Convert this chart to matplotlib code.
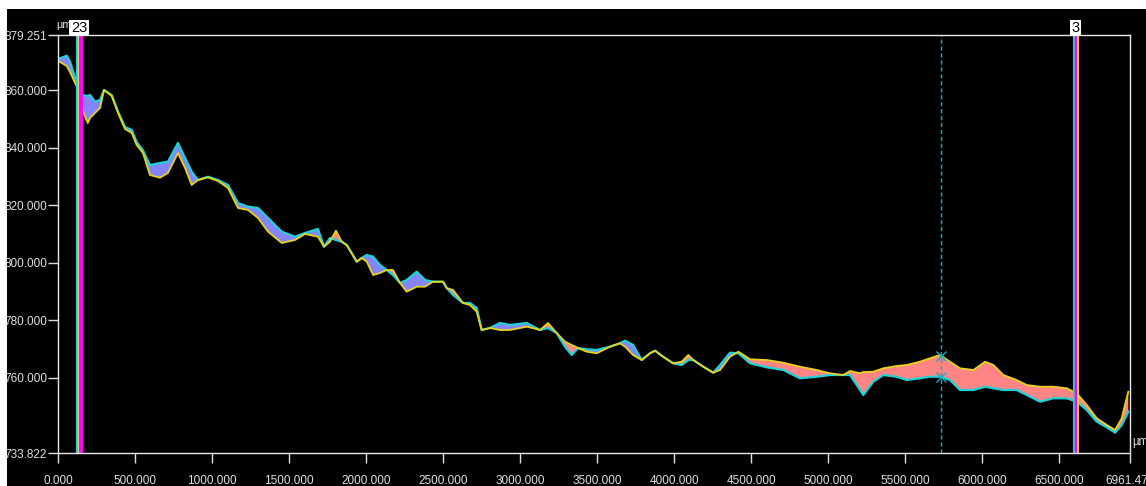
import matplotlib.pyplot as plt
import numpy as np

# distance along the profile (um)
x = [0, 55, 76, 109, 130, 152, 191, 206, 238, 271, 297, 347, 388, 433, 477, 509,
     550, 595, 660, 712, 777, 823, 866, 907, 972, 1037, 1102, 1167, 1232, 1297,
     1362, 1451, 1537, 1602, 1686, 1725, 1764, 1803, 1840, 1873, 1938, 1970,
     2003, 2044, 2089, 2132, 2173, 2219, 2262, 2327, 2381, 2433, 2498, 2522,
     2563, 2628, 2673, 2717, 2749, 2803, 2868, 2933, 3042, 3128, 3180, 3236,
     3290, 3334, 3375, 3431, 3496, 3582, 3647, 3680, 3732, 3788, 3842, 3875,
     3927, 3992, 4048, 4091, 4123, 4188, 4253, 4297, 4362, 4416, 4492, 4600,
     4708, 4816, 4925, 5011, 5097, 5141, 5206, 5227, 5292, 5357, 5444, 5509,
     5595, 5660, 5725, 5790, 5855, 5942, 6018, 6072, 6136, 6223, 6288, 6375,
     6461, 6548, 6613, 6678, 6743, 6808, 6862, 6905, 6948]

# first profile (cyan)
profile_a = [870.90, 872.05, 869.96, 864.29, 860.12, 858.38, 858.03, 858.38,
             856.05, 856.64, 860.12, 858.38, 852.57, 847.25, 846.20, 842.02,
             839.07, 834.02, 834.72, 835.17, 841.68, 836.46, 831.69, 828.80,
             829.95, 828.80, 827.06, 820.80, 819.52, 819.06, 815.58, 810.82,
             809.08, 810.37, 811.76, 805.60, 808.63, 807.93, 807.34, 806.19,
             800.38, 801.67, 802.71, 802.12, 799.23, 797.49, 795.75, 792.97,
             794.01, 796.90, 794.01, 793.42, 793.42, 791.23, 788.80, 786.01,
             786.01, 784.27, 776.62, 777.32, 779.05, 778.36, 779.05, 776.62,
             777.32, 775.58, 770.81, 767.92, 770.36, 769.90, 769.66, 770.81,
             771.99, 772.90, 771.40, 766.18, 768.51, 769.42, 767.33, 765.03,
             764.44, 766.18, 766.18, 763.85, 761.76, 764.44, 768.72, 768.51,
             765.03, 763.64, 762.70, 759.82, 760.37, 760.96, 760.96, 760.96,
             755.75, 754.01, 758.63, 760.96, 760.37, 759.22, 759.82, 760.37,
             760.37, 759.22, 755.75, 755.75, 756.89, 756.34, 755.75, 755.75,
             754.01, 751.68, 752.86, 752.86, 751.68, 748.79, 744.72, 742.77,
             740.89, 743.57, 748.20]

# second profile (yellow)
profile_b = [870.20, 868.47, 866.38, 862.55, 860.12, 853.85, 848.63, 850.37,
             852.11, 853.85, 860.12, 858.03, 852.11, 846.55, 845.16, 840.98,
             838.20, 830.54, 829.60, 831.24, 838.20, 832.98, 827.06, 828.80,
             829.70, 828.45, 826.02, 819.06, 818.37, 815.58, 810.82, 806.89,
             807.93, 810.02, 809.08, 805.60, 807.34, 811.17, 807.34, 806.19,
             800.38, 801.67, 800.38, 795.75, 796.45, 797.49, 797.49, 792.97,
             789.94, 791.68, 791.68, 793.42, 793.42, 791.23, 790.54, 786.01,
             785.31, 782.99, 776.62, 777.32, 776.62, 776.62, 777.77, 776.62,
             779.05, 775.58, 772.55, 771.40, 770.36, 769.07, 768.51, 770.81,
             771.99, 770.81, 767.92, 766.18, 768.51, 769.42, 767.33, 765.03,
             765.59, 767.92, 766.18, 763.85, 761.76, 762.70, 767.33, 769.07,
             766.43, 766.18, 765.24, 763.85, 762.70, 761.55, 760.96, 762.36,
             761.55, 762.00, 762.11, 763.29, 764.10, 764.44, 765.59, 766.77,
             767.92, 765.59, 763.29, 762.70, 765.59, 764.44, 760.96, 759.22,
             757.48, 756.89, 756.89, 756.34, 754.60, 750.53, 745.90, 743.57,
             741.83, 745.90, 755.15]

x_ticks = [0, 500, 1000, 1500, 2000, 2500, 3000, 3500, 4000, 4500, 5000,
           5500, 6000, 6500, 6961.474]
y_ticks = [733.822, 760, 780, 800, 820, 840, 860, 879.251]

# cursor positions (um)
cursor_left = [119, 126, 147]
cursor_right = [6594, 6605, 6620]
cursor_dash = 5731

x = np.array(x)
a = np.array(profile_a)
b = np.array(profile_b)

plt.rcParams['font.family'] = ['Liberation Sans', 'DejaVu Sans']

fig = plt.figure(figsize=(11.46, 4.86), dpi=100, facecolor='white')
fig.patches.append(plt.Rectangle((7 / 1146, 0), 1, 1 - 9 / 486, transform=fig.transFigure,
                                 facecolor='black', edgecolor='none', zorder=-10))
ax = fig.add_axes([58.3 / 1146, 1 - 453 / 486, (1130.4 - 58.3) / 1146, (453 - 35) / 486])
ax.set_facecolor('black')

ax.fill_between(x, a, b, where=a >= b, interpolate=True, color='#8484ff', lw=0)
ax.fill_between(x, a, b, where=a < b, interpolate=True, color='#ff8484', lw=0)
ax.plot(x, a, color='#1ed2d8', lw=1.6)
ax.plot(x, b, color='#e8d21a', lw=1.3)

ax.axvline(cursor_left[0], color='#1ed2d8', lw=1.5)
ax.axvline(cursor_left[1], color='#e8e060', lw=1)
ax.axvline(cursor_left[2], color='#ff00ff', lw=3)
ax.axvline(cursor_right[0], color='#1ed2d8', lw=1.5)
ax.axvline(cursor_right[1], color='#ff00ff', lw=2.5)
ax.axvline(cursor_right[2], color='#ffff00', lw=1.2)
ax.axvline(cursor_dash, color='#10b0c0', lw=1, ls=(0, (3, 2)))
ax.plot([cursor_dash, cursor_dash], [np.interp(cursor_dash, x, b), np.interp(cursor_dash, x, a)],
        ls='none', marker='x', ms=7, mew=1, color='#10b0c0')

ax.set_xlim(0, 6961.474)
ax.set_ylim(733.822, 879.251)
ax.set_xticks(x_ticks)
ax.set_xticklabels([f'{v:.3f}' for v in x_ticks])
ax.set_yticks(y_ticks)
ax.set_yticklabels([f'{v:.3f}' for v in y_ticks])
ax.tick_params(axis='x', colors='#e0e0e0', length=7, width=1, pad=9, labelsize=8.5)
ax.tick_params(axis='y', colors='#e0e0e0', length=7, width=1, pad=1, labelsize=8.5)
for s in ax.spines.values():
    s.set_color('#e8e8e8')
    s.set_linewidth(1)

# cursor labels and units
ax.text(134, 1.0, '23', transform=ax.get_xaxis_transform(), ha='center', va='bottom',
        fontsize=10.5, color='black', bbox=dict(facecolor='white', edgecolor='none', pad=1.0))
ax.text(6605, 1.0, '3', transform=ax.get_xaxis_transform(), ha='center', va='bottom',
        fontsize=10.5, color='black', bbox=dict(facecolor='white', edgecolor='none', pad=1.0))
fig.text(56 / 1146, 1 - 25 / 486, 'µm', color='#e0e0e0', fontsize=8, va='center')
fig.text(1132 / 1146, 1 - 442 / 486, 'µm', color='#e0e0e0', fontsize=8.3, va='center')

fig.savefig('out.png', dpi=100, facecolor=fig.get_facecolor())
